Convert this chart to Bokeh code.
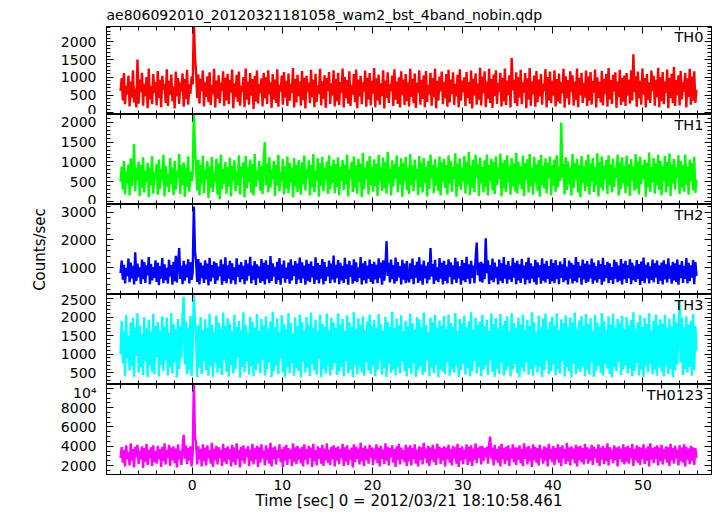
from bokeh.plotting import figure
from bokeh.layouts import column
from bokeh.models import Range1d, LinearAxis, FixedTicker, Label
from bokeh.embed import file_html
from bokeh.resources import INLINE
import numpy as np

FONT = "DejaVu Sans"
TITLE = "ae806092010_20120321181058_wam2_bst_4band_nobin.qdp"
X_LABEL = "Time [sec] 0 = 2012/03/21 18:10:58.461"
Y_LABEL = "Counts/sec"

# light-curve sampling (0.125 s steps)
T_START = -7.94
DT = 0.125

th0 = [
    620, 980, 350, 1120, 240, 760, 520, 1050, 180, 880, 430, 1200, 290, 690, 150, 1500, 260, 940, 580, 1130, 200, 820, 470, 1010, 130, 1250, 380, 760, 240, 1090, 560, 870,
    210, 1180, 420, 930, 160, 1040, 650, 820, 280, 1230, 190, 900, 510, 1080, 330, 740, 120, 1160, 460, 980, 250, 860, 600, 1110, 170, 950, 390, 1210, 230, 800, 540, 1020,
    800, 2600, 1600, 1150, 420, 1080, 260, 960, 610, 1190, 180, 870, 450, 1030, 300, 1140, 220, 780, 530, 1240, 150, 910, 400, 1060, 270, 850, 620, 1170, 190, 990, 350, 1100,
    240, 920, 570, 1220, 130, 830, 440, 1070, 310, 1160, 200, 760, 590, 1010, 160, 1250, 370, 880, 230, 1120, 480, 950, 110, 1040, 320, 1190, 260, 810, 550, 970, 180, 1130,
    410, 1000, 250, 1200, 520, 860, 140, 1090, 380, 940, 280, 1230, 170, 790, 600, 1050, 230, 1150, 430, 900, 190, 1110, 340, 820, 560, 1260, 150, 960, 290, 1070, 470, 880,
    200, 1180, 360, 990, 120, 1040, 580, 850, 270, 1210, 440, 930, 160, 1100, 310, 770, 530, 1240, 210, 890, 400, 1060, 140, 980, 620, 1150, 250, 830, 490, 1200, 180, 950,
    330, 1130, 220, 870, 570, 1250, 150, 1010, 420, 920, 260, 1170, 190, 780, 510, 1090, 300, 1220, 130, 940, 460, 1040, 240, 860, 590, 1190, 170, 990, 380, 1120, 210, 900,
    540, 1260, 160, 970, 350, 1080, 230, 830, 480, 1200, 120, 910, 420, 1140, 280, 800, 610, 1050, 190, 1230, 370, 880, 250, 1000, 150, 1170, 500, 940, 220, 1090, 330, 860,
    180, 1240, 450, 960, 270, 1110, 140, 850, 560, 1200, 230, 930, 390, 1060, 160, 1180, 310, 790, 520, 1130, 200, 980, 440, 1250, 130, 900, 350, 1020, 600, 1160, 240, 870,
    410, 1090, 170, 1210, 290, 940, 530, 1140, 220, 820, 460, 1070, 150, 1230, 340, 910, 580, 1000, 190, 1150, 420, 870, 260, 1190, 120, 960, 490, 1110, 230, 830, 370, 1270,
    210, 1020, 550, 1170, 160, 880, 400, 1240, 280, 950, 140, 1080, 470, 1200, 250, 840, 590, 1130, 180, 990, 330, 1250, 220, 910, 500, 1060, 150, 1550, 640, 930, 270, 1140,
    190, 1000, 430, 1210, 240, 860, 570, 1120, 130, 970, 380, 1260, 200, 890, 520, 1050, 170, 1180, 300, 940, 460, 1090, 230, 820, 610, 1230, 150, 1010, 350, 1160, 270, 900,
    480, 1200, 180, 950, 320, 1110, 260, 870, 550, 1240, 140, 1030, 410, 920, 230, 1170, 590, 1060, 200, 880, 360, 1250, 160, 990, 500, 1130, 280, 840, 430, 1190, 190, 1020,
    340, 1150, 230, 900, 570, 1220, 150, 1000, 420, 870, 290, 1180, 210, 960, 530, 1100, 170, 1260, 380, 920, 250, 1070, 600, 1140, 140, 880, 450, 1210, 220, 980, 310, 1050,
    190, 1120, 480, 940, 260, 1200, 350, 1650, 580, 1030, 170, 1160, 410, 900, 230, 1250, 520, 980, 150, 1090, 370, 860, 280, 1190, 610, 1040, 200, 930, 440, 1270, 160, 1010,
    330, 1150, 240, 880, 560, 1220, 130, 990, 420, 1100, 270, 1300, 190, 920, 500, 1060, 210, 1180, 380, 860, 600, 1130, 150, 970, 450, 1240, 230, 1020, 340, 1170, 280, 650,
]
th1 = [
    500, 880, 300, 1020, 180, 760, 460, 940, 150, 1090, 390, 700, 1450, 260, 830, 520, 1010, 140, 920, 350, 1120, 230, 780, 480, 980, 110, 860, 410, 1150, 200, 740, 560,
    950, 170, 1060, 320, 820, 540, 1180, 130, 900, 380, 700, 240, 1100, 450, 860, 160, 1030, 300, 780, 590, 1200, 190, 920, 420, 990, 120, 840, 360, 1140, 250, 760, 510,
    700, 2300, 1300, 880, 280, 1050, 150, 930, 470, 1160, 210, 800, 560, 1020, 90, 890, 340, 1130, 240, 740, 500, 1080, 170, 960, 60, 1190, 310, 820, 450, 1000, 200, 870,
    380, 1110, 130, 910, 530, 1040, 260, 770, 410, 1170, 180, 880, 600, 990, 100, 1150, 330, 830, 480, 1060, 220, 940, 150, 1200, 370, 790, 540, 1020, 270, 900, 190, 1080,
    1500, 420, 960, 230, 1120, 350, 810, 560, 1030, 140, 920, 400, 1180, 260, 750, 500, 1070, 180, 890, 330, 1140, 210, 980, 470, 840, 110, 1100, 380, 930, 240, 1050, 520,
    170, 990, 430, 1160, 280, 820, 590, 1040, 150, 930, 360, 1200, 230, 780, 510, 1090, 120, 960, 400, 1130, 260, 850, 550, 1010, 190, 1170, 320, 890, 470, 1060, 210, 940,
    370, 1120, 160, 870, 520, 1050, 290, 930, 440, 1190, 130, 810, 580, 1000, 240, 1140, 350, 900, 200, 1080, 490, 960, 110, 1230, 310, 840, 560, 1020, 180, 1150, 420, 880,
    250, 1070, 390, 950, 140, 1180, 530, 860, 270, 1110, 340, 990, 200, 1250, 460, 820, 150, 1040, 380, 940, 570, 1160, 230, 880, 430, 1090, 120, 970, 500, 1130, 290, 850,
    190, 1200, 410, 910, 260, 1060, 540, 820, 160, 1150, 360, 980, 230, 1100, 470, 870, 130, 1020, 320, 1190, 580, 930, 210, 1070, 400, 850, 270, 1140, 150, 990, 490, 1080,
    340, 920, 180, 1170, 450, 1030, 250, 880, 560, 1220, 120, 960, 380, 1090, 290, 840, 510, 1150, 200, 1000, 430, 1260, 160, 900, 350, 1060, 240, 1180, 590, 950, 140, 1110,
    460, 870, 230, 1040, 370, 1190, 150, 930, 520, 1080, 280, 990, 190, 1140, 410, 860, 570, 1210, 130, 980, 330, 1050, 250, 1170, 480, 910, 170, 1100, 390, 960, 260, 1230,
    200, 1010, 440, 890, 310, 1160, 140, 970, 550, 1070, 230, 1200, 380, 850, 170, 1130, 490, 940, 270, 1050, 120, 1180, 420, 900, 330, 1090, 210, 980, 580, 1140, 160, 920,
    400, 1060, 250, 1170, 360, 880, 520, 2000, 600, 950, 180, 1120, 290, 1010, 430, 860, 150, 1200, 340, 970, 540, 1080, 220, 920, 110, 1150, 470, 890, 260, 1040, 380, 1190,
    170, 960, 500, 1100, 240, 870, 410, 1220, 130, 1000, 350, 1140, 280, 910, 560, 1050, 190, 1170, 420, 940, 230, 1080, 370, 860, 600, 1190, 150, 990, 320, 1120, 460, 900,
    210, 1160, 390, 950, 140, 1070, 530, 880, 270, 1200, 330, 1010, 180, 1130, 440, 920, 570, 1060, 120, 980, 360, 1240, 250, 870, 480, 1100, 200, 960, 410, 1180, 290, 1030,
    160, 890, 520, 1150, 230, 1000, 380, 1210, 140, 940, 460, 1080, 300, 860, 590, 1170, 190, 1020, 350, 930, 250, 1190, 430, 880, 170, 1060, 510, 970, 280, 1130, 220, 550,
]
th2 = [
    800, 1250, 560, 1100, 430, 980, 690, 1320, 470, 1180, 610, 1060, 390, 1550, 520, 1140, 660, 1010, 410, 1290, 580, 1200, 450, 1080, 720, 1380, 400, 1130, 540, 1020, 630, 1260,
    480, 1170, 370, 1050, 600, 1340, 440, 1120, 550, 990, 420, 1280, 680, 1090, 380, 1210, 510, 1420, 460, 1150, 1700, 590, 1060, 400, 1240, 530, 1110, 650, 1300, 430, 1190, 560,
    850, 3200, 1600, 1200, 480, 1310, 390, 1180, 620, 1070, 450, 1260, 570, 1140, 360, 1350, 500, 1090, 640, 1220, 410, 1160, 540, 1030, 690, 1290, 380, 1120, 520, 1370, 440, 1080,
    600, 1240, 420, 1150, 550, 1010, 390, 1330, 660, 1100, 470, 1200, 580, 1060, 400, 1280, 530, 1140, 710, 1390, 430, 1070, 560, 1230, 370, 1120, 620, 1040, 450, 1310, 510, 1170,
    390, 1260, 580, 1090, 440, 1410, 520, 1150, 670, 1030, 410, 1210, 550, 1340, 380, 1110, 630, 1250, 460, 1000, 590, 1180, 420, 1300, 540, 1080, 700, 1230, 400, 1140, 570, 1360,
    450, 1190, 610, 1070, 380, 1280, 530, 1130, 470, 1220, 650, 1050, 410, 1370, 560, 1160, 430, 1090, 600, 1310, 390, 1200, 520, 1020, 680, 1250, 440, 1140, 570, 1430, 460, 1100,
    620, 1270, 400, 1170, 540, 1060, 450, 1350, 590, 1120, 380, 1240, 660, 1080, 420, 1300, 510, 1190, 470, 1010, 630, 1380, 390, 1150, 550, 1230, 430, 1070, 600, 1290, 480, 1130,
    410, 1210, 570, 1100, 440, 1330, 620, 1180, 380, 1260, 530, 1040, 1950, 700, 1170, 460, 1290, 580, 1090, 420, 1360, 510, 1200, 650, 1050, 390, 1280, 560, 1140, 440, 1230, 600,
    470, 1150, 590, 1320, 400, 1080, 640, 1210, 450, 1370, 530, 1110, 380, 1250, 610, 1060, 430, 1190, 560, 1700, 680, 1130, 410, 1280, 540, 1020, 470, 1340, 600, 1170, 390, 1240,
    520, 1100, 430, 1300, 660, 1190, 400, 1080, 570, 1350, 450, 1220, 610, 1040, 380, 1270, 540, 1160, 470, 1390, 590, 1120, 420, 1240, 630, 1070, 440, 1330, 1900, 720, 1180, 500,
    1210, 460, 1140, 580, 2050, 800, 1260, 410, 1090, 550, 1320, 470, 1180, 620, 1030, 390, 1290, 530, 1150, 440, 1380, 600, 1100, 420, 1230, 570, 1060, 480, 1340, 640, 1170, 400,
    1250, 540, 1120, 450, 1310, 620, 1070, 390, 1200, 560, 1360, 430, 1150, 600, 1040, 470, 1280, 380, 1190, 650, 1090, 420, 1330, 530, 1130, 460, 1240, 590, 1050, 410, 1300, 510,
    1160, 440, 1270, 580, 1080, 400, 1220, 630, 1120, 470, 1340, 550, 1030, 390, 1250, 600, 1170, 430, 1100, 520, 1380, 460, 1200, 640, 1060, 380, 1290, 570, 1140, 450, 1230, 490,
    1110, 610, 1320, 420, 1180, 540, 1050, 460, 1260, 590, 1130, 380, 1350, 500, 1090, 630, 1210, 440, 1150, 560, 1020, 410, 1280, 600, 1190, 470, 1070, 530, 1310, 390, 1140, 580,
    1240, 450, 1090, 620, 1300, 400, 1170, 550, 1060, 480, 1270, 590, 1130, 370, 1220, 520, 1360, 440, 1100, 610, 1190, 430, 1040, 560, 1290, 470, 1150, 640, 1250, 410, 1080, 530,
    1180, 390, 1260, 570, 1120, 460, 1330, 600, 1070, 420, 1210, 540, 1150, 480, 1290, 380, 1100, 620, 1230, 450, 1060, 590, 1340, 430, 1170, 510, 1080, 640, 1270, 400, 1200, 700,
]
th3 = [
    1000, 1900, 750, 1620, 420, 2050, 880, 1500, 560, 1850, 680, 1980, 390, 1720, 950, 2100, 510, 1780, 640, 1560, 440, 2000, 820, 1690, 380, 1930, 700, 1610, 530, 2080, 460, 1760,
    910, 1870, 400, 1640, 720, 2020, 550, 1730, 860, 1990, 430, 1580, 650, 2110, 480, 1820, 780, 1670, 370, 1950, 600, 1750, 900, 2060, 2550, 720, 1880, 460, 1700, 580, 2030, 410,
    1200, 2650, 1900, 1450, 380, 1780, 640, 2000, 470, 1650, 820, 1940, 560, 1710, 420, 2090, 690, 1800, 390, 1590, 760, 2040, 500, 1850, 620, 1690, 440, 2120, 850, 1760, 530, 1970,
    400, 1830, 710, 1620, 480, 2060, 590, 1740, 930, 1900, 370, 1660, 650, 2130, 520, 1790, 810, 1580, 450, 2010, 680, 1870, 410, 1710, 570, 2080, 740, 1640, 490, 1950, 860, 1770,
    430, 2020, 600, 1690, 780, 1880, 390, 2140, 540, 1730, 700, 1960, 460, 1600, 890, 2050, 510, 1810, 380, 1680, 660, 2110, 480, 1840, 750, 1570, 420, 1990, 620, 1750, 550, 2070,
    370, 1860, 800, 1640, 500, 2000, 640, 1780, 410, 2120, 730, 1700, 560, 1930, 450, 1620, 870, 2060, 390, 1820, 610, 1740, 480, 2090, 690, 1660, 430, 1980, 580, 1850, 760, 1710,
    440, 2100, 530, 1790, 670, 1950, 400, 1630, 820, 2040, 490, 1860, 590, 1720, 380, 2130, 710, 1680, 460, 1970, 640, 1800, 520, 2020, 420, 1650, 780, 1890, 560, 2070, 470, 1760,
    690, 1920, 410, 1700, 570, 2080, 840, 1810, 450, 1640, 620, 2010, 390, 1870, 730, 1730, 500, 2140, 580, 1690, 430, 1960, 660, 1780, 480, 2050, 810, 1620, 540, 1900, 400, 1750,
    620, 2090, 470, 1830, 750, 1670, 390, 2000, 560, 1940, 680, 1720, 440, 2120, 520, 1790, 860, 1600, 410, 1980, 640, 1850, 490, 2060, 710, 1700, 380, 1910, 590, 1770, 530, 2030,
    460, 1680, 790, 2070, 420, 1840, 600, 1740, 510, 2110, 690, 1620, 380, 1950, 570, 1820, 740, 2040, 450, 1710, 630, 1890, 400, 2130, 550, 1660, 820, 1980, 480, 1790, 650, 1880,
    410, 2060, 580, 1750, 700, 1930, 440, 1640, 850, 2100, 520, 1810, 390, 1970, 610, 1690, 470, 2080, 760, 1780, 430, 1900, 560, 2020, 680, 1630, 400, 2110, 590, 1840, 730, 1720,
    490, 1990, 380, 1800, 640, 2070, 530, 1670, 780, 1920, 450, 1760, 600, 2130, 420, 1850, 700, 1610, 510, 2040, 660, 1730, 390, 1960, 570, 2090, 830, 1700, 460, 1880, 550, 2010,
    720, 1780, 430, 2100, 590, 1650, 480, 1940, 810, 1830, 400, 2050, 650, 1720, 540, 1980, 380, 1860, 740, 2120, 470, 1690, 610, 1910, 520, 2030, 690, 1760, 410, 2080, 580, 1810,
    450, 1970, 770, 1640, 390, 2060, 560, 1850, 680, 1730, 500, 2110, 420, 1890, 730, 1660, 610, 2020, 470, 1790, 380, 2090, 650, 1710, 540, 1950, 800, 1830, 440, 2040, 590, 1680,
    700, 2000, 480, 1770, 620, 1920, 410, 2130, 550, 1690, 760, 1860, 430, 2050, 590, 1740, 390, 1980, 670, 1810, 510, 2100, 740, 1650, 460, 1900, 580, 2070, 420, 1780, 640, 1940,
    530, 1820, 400, 2060, 690, 1700, 470, 1960, 610, 1750, 380, 2090, 560, 1850, 720, 1660, 2450, 780, 1990, 440, 1730, 600, 2020, 510, 1800, 660, 1900, 420, 2080, 570, 1760, 1100,
]
th0123 = [
    2800, 3900, 2300, 3600, 1900, 4100, 2700, 3400, 2000, 4300, 2500, 3700, 1800, 3950, 2900, 4150, 2150, 3550, 2600, 4000, 1750, 3800, 2400, 4250, 2050, 3650, 2750, 3900, 1950, 4100, 2350, 3500,
    2200, 4050, 2650, 3700, 1850, 3950, 2450, 4300, 2100, 3600, 2800, 4150, 1950, 3850, 2550, 4000, 2250, 3750, 1800, 4200, 2600, 3550, 2050, 3900, 5200, 2700, 4100, 2150, 3800, 2500, 4000, 1900,
    3200, 10600, 5000, 4300, 2100, 4000, 2600, 3700, 1900, 4200, 2450, 3850, 2000, 4100, 2750, 3600, 2200, 4350, 1850, 3750, 2550, 4050, 2100, 3900, 2800, 3650, 1950, 4250, 2400, 3800, 2150, 4000,
    2650, 3700, 1900, 4150, 2350, 3850, 2050, 4300, 2700, 3600, 1800, 3950, 2500, 4100, 2200, 3750, 2900, 4000, 1950, 3650, 2450, 4250, 2100, 3800, 2600, 4050, 1850, 3900, 2300, 4200, 2750, 3550,
    2000, 4100, 2550, 3750, 2200, 4350, 1900, 3850, 2650, 4000, 2100, 3600, 2800, 4200, 2350, 3700, 1850, 3950, 2500, 4150, 2050, 3800, 2700, 3650, 1950, 4300, 2400, 3900, 2150, 4050, 2600, 3750,
    2250, 3950, 1900, 4200, 2600, 3700, 2100, 4050, 2800, 3850, 1850, 4250, 2450, 3600, 2000, 4000, 2700, 3800, 2200, 4150, 1950, 3750, 2550, 4300, 2300, 3650, 2050, 3950, 2650, 4100, 1900, 3850,
    2500, 4000, 2150, 3700, 2750, 4250, 1950, 3900, 2400, 4100, 2050, 3650, 2600, 3850, 1800, 4200, 2350, 3950, 2700, 3750, 2100, 4350, 2450, 3800, 1950, 4050, 2550, 3700, 2200, 4150, 2800, 3900,
    2050, 3750, 2600, 4200, 2250, 3850, 1900, 4050, 2700, 3650, 2150, 4300, 2500, 3950, 2000, 3800, 2850, 4100, 2300, 3700, 1850, 4000, 2550, 4250, 2100, 3850, 2650, 3600, 2350, 4150, 1950, 3900,
    2450, 4100, 2000, 3800, 2700, 4200, 2200, 3650, 1900, 4000, 2550, 3900, 2100, 4350, 2750, 3750, 2250, 4050, 1950, 3850, 2600, 4150, 2350, 3700, 2050, 4250, 2800, 3950, 2150, 3800, 2500, 4000,
    1900, 3850, 2650, 4150, 2300, 3700, 2000, 4050, 2750, 3900, 2200, 4250, 1850, 3800, 2500, 4000, 2150, 3650, 2700, 4200, 2050, 3950, 2400, 4100, 1950, 3750, 2600, 4300, 2250, 3850, 2800, 4000,
    2100, 4050, 2450, 3800, 2850, 3950, 2200, 4200, 5000, 2700, 3850, 2000, 4150, 2550, 3700, 2300, 4000, 1900, 4250, 2650, 3800, 2150, 3950, 2500, 4100, 1950, 3750, 2750, 4200, 2350, 3900, 2050,
    3850, 2600, 4100, 2250, 3700, 1950, 4300, 2700, 3900, 2100, 4050, 2450, 3750, 1850, 4200, 2550, 3950, 2300, 3800, 2000, 4150, 2750, 3650, 2200, 4000, 2500, 3850, 1900, 4250, 2650, 3700, 2350,
    4050, 2050, 3800, 2600, 4200, 2300, 3900, 1950, 4100, 2750, 3700, 2150, 4350, 2450, 3850, 2000, 4000, 2650, 3750, 2250, 4150, 1900, 3950, 2550, 4050, 2350, 3800, 2100, 4250, 2700, 3900, 2200,
    3750, 2500, 4150, 2050, 3950, 2800, 3700, 2300, 4200, 1950, 3850, 2600, 4050, 2150, 3800, 2450, 4300, 2000, 3900, 2700, 3650, 2250, 4100, 2550, 3850, 1900, 4000, 2650, 3750, 2350, 4200, 2100,
    3900, 2400, 4050, 2200, 3800, 2750, 4250, 1950, 3700, 2550, 4100, 2300, 3950, 2050, 3850, 2650, 4200, 2150, 3750, 2500, 4000, 1900, 4300, 2600, 3800, 2250, 3950, 2700, 4100, 2000, 3850, 2450,
    4150, 2100, 3700, 2650, 4000, 2300, 3900, 1950, 4250, 2550, 3800, 2200, 4050, 2750, 3650, 2000, 4100, 2450, 3850, 2300, 4200, 1900, 3950, 2600, 3750, 2150, 4050, 2500, 3900, 2050, 3800, 2800,
]

panel_names = ["TH0", "TH1", "TH2", "TH3", "TH0123"]
panel_series = [th0, th1, th2, th3, th0123]
panel_colors = ["#ff0000", "#00ff00", "#0000ff", "#00ffff", "#ff00ff"]
y_limits = [(-48, 2433), (-76, 2200), (30, 3270), (184, 2608), (1065, 10415)]
y_major = [[0, 500, 1000, 1500, 2000], [0, 500, 1000, 1500, 2000],
           [0, 1000, 2000, 3000], [500, 1000, 1500, 2000, 2500],
           [2000, 4000, 6000, 8000, 10000]]
y_minor_step = [100, 100, 200, 100, 500]
x_limits = (-9.5, 57.6)
x_major = [0, 10, 20, 30, 40, 50]
x_minor = list(range(-8, 57, 2))

FRAME_W = 605
FRAME_H = [88, 90, 90, 90, 90]


def style_axis(ax, labels):
    ax.axis_line_color = "black"
    ax.axis_line_width = 1
    ax.major_tick_in = 7
    ax.major_tick_out = 0
    ax.minor_tick_in = 4
    ax.minor_tick_out = 0
    ax.major_tick_line_color = "black"
    ax.minor_tick_line_color = "black"
    if labels:
        ax.major_label_text_font = FONT
        ax.major_label_text_font_size = "14px"
        ax.major_label_text_color = "black"
    else:
        ax.major_label_text_font_size = "0px"
        ax.major_label_text_color = None
        ax.major_label_standoff = 0


figs = []
for i, (name, vals, col) in enumerate(zip(panel_names, panel_series, panel_colors)):
    first = i == 0
    last = i == len(panel_names) - 1
    lo, hi = y_limits[i]
    p = figure(frame_width=FRAME_W, frame_height=FRAME_H[i],
               x_range=Range1d(*x_limits), y_range=Range1d(lo, hi),
               output_backend="svg", toolbar_location=None,
               x_axis_location=None, y_axis_location=None,
               min_border_left=106, min_border_right=1,
               min_border_top=0, min_border_bottom=0)
    p.xgrid.visible = False
    p.ygrid.visible = False
    p.outline_line_color = "black"
    p.outline_line_width = 1
    p.background_fill_color = "white"
    p.border_fill_color = "white"

    xt = FixedTicker(ticks=x_major, minor_ticks=x_minor)
    yt = FixedTicker(ticks=y_major[i],
                     minor_ticks=list(range(0, 10001, y_minor_step[i])))

    left = LinearAxis(ticker=yt)
    style_axis(left, True)
    left.major_label_standoff = 10
    if i == 4:
        left.major_label_overrides = {10000: "10\u2074"}
    if i == 2:
        left.axis_label = Y_LABEL
        left.axis_label_text_font = FONT
        left.axis_label_text_font_size = "15px"
        left.axis_label_text_font_style = "normal"
        left.axis_label_text_color = "black"
        left.axis_label_standoff = 9
    p.add_layout(left, "left")

    right = LinearAxis(ticker=yt)
    style_axis(right, False)
    p.add_layout(right, "right")

    top = LinearAxis(ticker=xt)
    style_axis(top, False)
    p.add_layout(top, "above")

    bottom = LinearAxis(ticker=xt)
    if last:
        style_axis(bottom, True)
        bottom.major_label_standoff = 5
        bottom.axis_label = X_LABEL
        bottom.axis_label_text_font = FONT
        bottom.axis_label_text_font_size = "15px"
        bottom.axis_label_text_font_style = "normal"
        bottom.axis_label_text_color = "black"
        bottom.axis_label_standoff = -1
    else:
        style_axis(bottom, False)
    p.add_layout(bottom, "below")

    if first:
        p.title.text = TITLE
        p.title.text_font = FONT
        p.title.text_font_size = "14px"
        p.title.text_font_style = "normal"
        p.title.text_color = "black"
        p.title.align = "left"
        p.title.standoff = 8

    time = T_START + DT * np.arange(len(vals))
    p.line(time, vals, line_color=col, line_width=2.4)

    p.add_layout(Label(x=x_limits[1], y=hi, x_offset=-8, y_offset=-2,
                       text=name, text_align="right", text_baseline="top",
                       text_font=FONT, text_font_size="14.5px", text_color="black"))
    figs.append(p)

layout = column(*figs, spacing=0)
open("out.html", "w").write(file_html(layout, INLINE))
